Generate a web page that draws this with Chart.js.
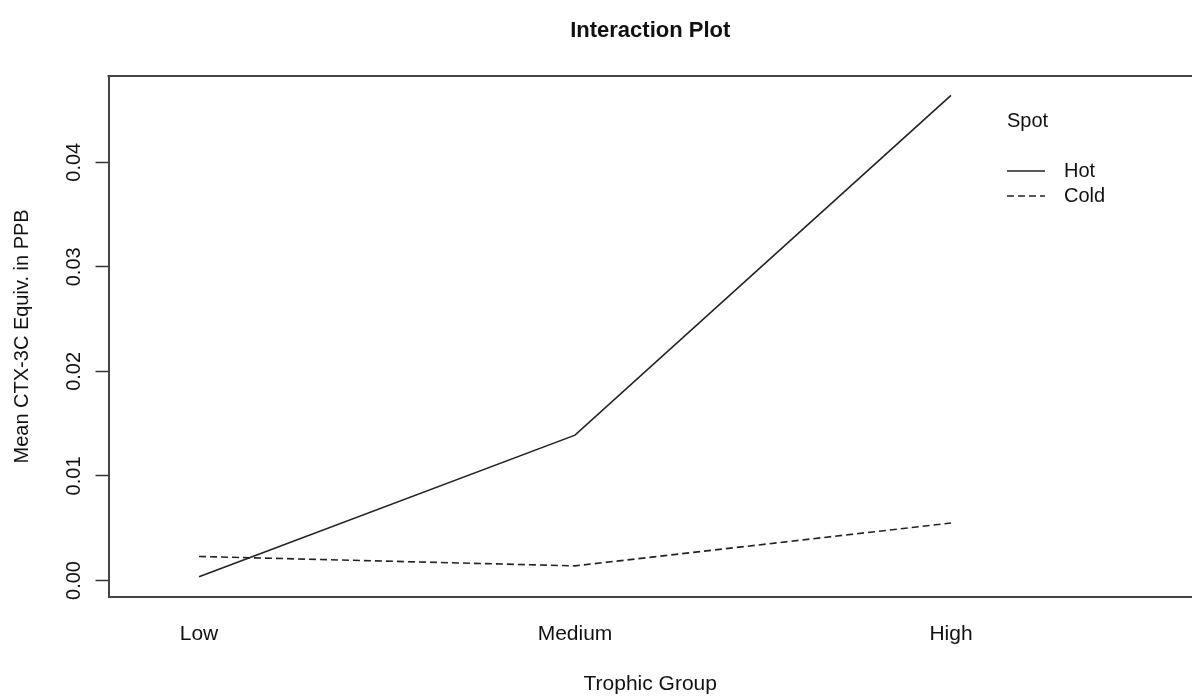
<!DOCTYPE html>
<html>
<head>
<meta charset="utf-8">
<title>Interaction Plot</title>
<script src="https://cdn.jsdelivr.net/npm/chart.js@4.4.1/dist/chart.umd.min.js"></script>
<style>
    body { margin: 0; background: #fff; }
    #wrap { position: relative; width: 1192px; height: 698px; overflow: hidden; }
    #legend { position: absolute; left: 1007px; top: 108px; font: 20px "Liberation Sans", Arial, sans-serif; color: #111; }
    #legend .title { line-height: 24px; height: 50px; }
    #legend .row { display: flex; align-items: center; height: 25px; }
    #legend svg { margin-right: 19px; }
</style>
</head>
<body>
<div id="wrap">
    <canvas id="interactionChart" width="1192" height="698"></canvas>
    <div id="legend"></div>
</div>
<script>
    const trophicGroups = ['Low', 'Medium', 'High'];
    const hotMeans = [0.00035, 0.0139, 0.0464];
    const coldMeans = [0.0023, 0.0014, 0.0055];
    const yTickValues = [0.00, 0.01, 0.02, 0.03, 0.04];
    const spotLabels = ['Hot', 'Cold'];

    const fontFamily = '"Liberation Sans", Arial, sans-serif';
    const lineColor = '#222';
    const boxColor = '#444';

    function toPoints(values) {
        return values.map((v, i) => ({x: i + 1, y: v}));
    }

    // R draws a full box around the plot, chart.js only gives left/bottom
    const topBorder = {
        id: 'topBorder',
        afterDraw(chart) {
            let ctx = chart.ctx;
            let area = chart.chartArea;
            ctx.save();
            ctx.strokeStyle = boxColor;
            ctx.lineWidth = 2;
            ctx.beginPath();
            ctx.moveTo(area.left - 1, area.top);
            ctx.lineTo(area.right, area.top);
            ctx.stroke();
            ctx.restore();
        }
    };

    let ctx = document.getElementById('interactionChart');
    let chart = new Chart(ctx, {
        type: 'line',
        data: {
            datasets: [
                {
                    label: spotLabels[0],
                    data: toPoints(hotMeans),
                    borderColor: lineColor,
                    borderWidth: 1.6,
                    pointRadius: 0,
                    tension: 0,
                    fill: false
                },
                {
                    label: spotLabels[1],
                    data: toPoints(coldMeans),
                    borderColor: lineColor,
                    borderWidth: 1.6,
                    borderDash: [7, 4],
                    pointRadius: 0,
                    tension: 0,
                    fill: false
                }
            ]
        },
        options: {
            responsive: false,
            animation: false,
            layout: {padding: 0},
            plugins: {
                legend: {display: false},
                tooltip: {enabled: false},
                title: {
                    display: true,
                    text: 'Interaction Plot',
                    fullSize: false,
                    color: '#111',
                    font: {family: fontFamily, size: 22, weight: 'bold'},
                    padding: {top: 17.5, bottom: 32.1}
                }
            },
            scales: {
                x: {
                    type: 'linear',
                    min: 0.7593,
                    max: 3.641,
                    afterBuildTicks: (scale) => {
                        scale.ticks = trophicGroups.map((g, i) => ({value: i + 1}));
                    },
                    grid: {display: true, drawOnChartArea: false, drawTicks: false},
                    border: {display: true, color: boxColor, width: 2},
                    ticks: {
                        color: '#111',
                        font: {family: fontFamily, size: 21, lineHeight: 1},
                        padding: 27,
                        maxRotation: 0,
                        autoSkip: false,
                        callback: (v) => trophicGroups[v - 1]
                    },
                    title: {
                        display: true,
                        text: 'Trophic Group',
                        color: '#111',
                        font: {family: fontFamily, size: 21},
                        padding: {top: 0, bottom: 1}
                    }
                },
                y: {
                    min: -0.001558,
                    max: 0.04825,
                    afterBuildTicks: (scale) => {
                        scale.ticks = yTickValues.map((v) => ({value: v}));
                    },
                    grid: {drawOnChartArea: false, tickLength: 13, tickColor: '#333', tickWidth: 1.5},
                    border: {display: true, color: boxColor, width: 2},
                    ticks: {
                        color: '#111',
                        font: {family: fontFamily, size: 20},
                        padding: 2,
                        minRotation: 90,
                        maxRotation: 90,
                        crossAlign: 'center',
                        callback: (v) => v.toFixed(2)
                    },
                    title: {
                        display: true,
                        text: 'Mean CTX-3C Equiv. in PPB',
                        color: '#111',
                        font: {family: fontFamily, size: 20},
                        padding: {top: 10, bottom: 33.5}
                    }
                }
            }
        },
        plugins: [topBorder]
    });

    // legend in the style of R's interaction.plot, built from the datasets
    let legend = document.getElementById('legend');
    let legendTitle = document.createElement('div');
    legendTitle.className = 'title';
    legendTitle.textContent = 'Spot';
    legend.appendChild(legendTitle);
    chart.data.datasets.forEach((ds) => {
        let row = document.createElement('div');
        row.className = 'row';
        let dash = ds.borderDash ? ds.borderDash.join(' ') : 'none';
        row.innerHTML = '<svg width="38" height="4"><line x1="0" y1="2" x2="38" y2="2" stroke="' + ds.borderColor +
            '" stroke-width="' + ds.borderWidth + '" stroke-dasharray="' + dash + '"/></svg>';
        let label = document.createElement('span');
        label.textContent = ds.label;
        row.appendChild(label);
        legend.appendChild(row);
    });
</script>
</body>
</html>
